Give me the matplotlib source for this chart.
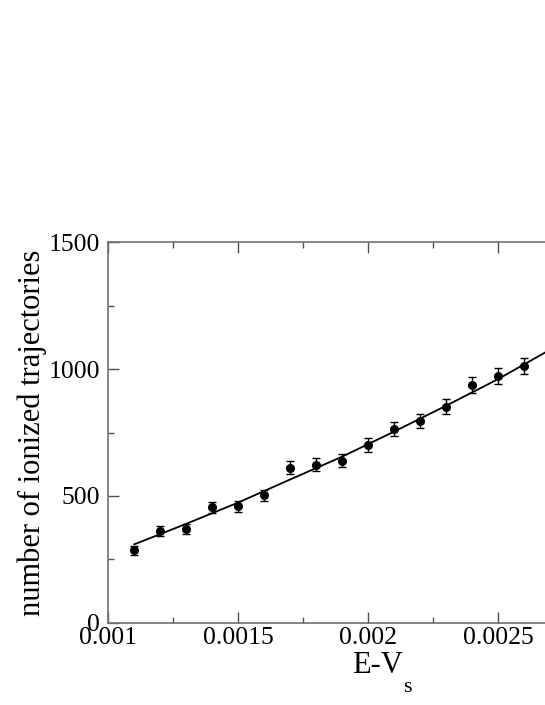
import matplotlib
matplotlib.use("Agg")
import matplotlib.pyplot as plt
from matplotlib.ticker import FixedLocator, FixedFormatter

plt.rcParams['font.family'] = ['Liberation Serif', 'DejaVu Serif']

# data
energy = [0.0011, 0.0012, 0.0013, 0.0014, 0.0015, 0.0016, 0.0017, 0.0018,
          0.0019, 0.0020, 0.0021, 0.0022, 0.0023, 0.0024, 0.0025, 0.0026]
counts = [285, 361, 369, 455, 459, 503, 611, 623,
          639, 701, 765, 795, 852, 937, 973, 1011]
errors = [17, 19, 19, 21, 21, 22, 25, 25,
          25, 26, 28, 28, 29, 31, 31, 32]
fit_x = [0.0011, 0.0013, 0.0015, 0.0017, 0.0019, 0.0021, 0.0023, 0.0025, 0.0027]
fit_y = [309, 390, 474, 565, 655, 754, 856, 961, 1077]

x_ticks = [0.001, 0.0015, 0.002, 0.0025]
x_ticklabels = ["0.001", "0.0015", "0.002", "0.0025"]
y_ticks = [0, 500, 1000, 1500]
y_ticklabels = ["0", "500", "1000", "1500"]

W, H = 545, 705
fig = plt.figure(figsize=(W / 100, H / 100), dpi=100)
ax = fig.add_axes([108.3 / W, 82.3 / H, 442.0 / W, 380.4 / H])

ax.plot(fit_x, fit_y, color='black', lw=1.3, zorder=2)
ax.errorbar(energy, counts, yerr=errors, fmt='o', color='black', ms=5.5,
            ecolor='black', elinewidth=1.0, capsize=3, capthick=1.0, zorder=3)

ax.set_xlim(0.001, 0.0027)
ax.set_ylim(0, 1500)

ax.xaxis.set_major_locator(FixedLocator(x_ticks))
ax.xaxis.set_major_formatter(FixedFormatter(x_ticklabels))
ax.xaxis.set_minor_locator(FixedLocator([0.00125, 0.00175, 0.00225]))
ax.yaxis.set_major_locator(FixedLocator(y_ticks))
ax.yaxis.set_major_formatter(FixedFormatter(y_ticklabels))
ax.yaxis.set_minor_locator(FixedLocator([250, 750, 1250]))

for s in ax.spines.values():
    s.set_color('#707070')
    s.set_linewidth(1.2)

ax.tick_params(which='both', direction='in', top=True, right=False,
               color='#505050', labelsize=18.5, width=1.0)
ax.tick_params(which='major', length=8)
ax.tick_params(which='minor', length=4.5)
ax.tick_params(axis='y', which='major', pad=6)
ax.tick_params(axis='x', which='major', pad=3)

ax.set_ylabel('number of ionized trajectories', fontsize=22, labelpad=1)

# x label with a low subscript
fig.text(352 / W, 1 - 673 / H, 'E-V', fontsize=22, ha='left', va='baseline')
fig.text(403 / W, 1 - 692 / H, 's', fontsize=16, ha='left', va='baseline')

fig.savefig('out.png', dpi=100)
